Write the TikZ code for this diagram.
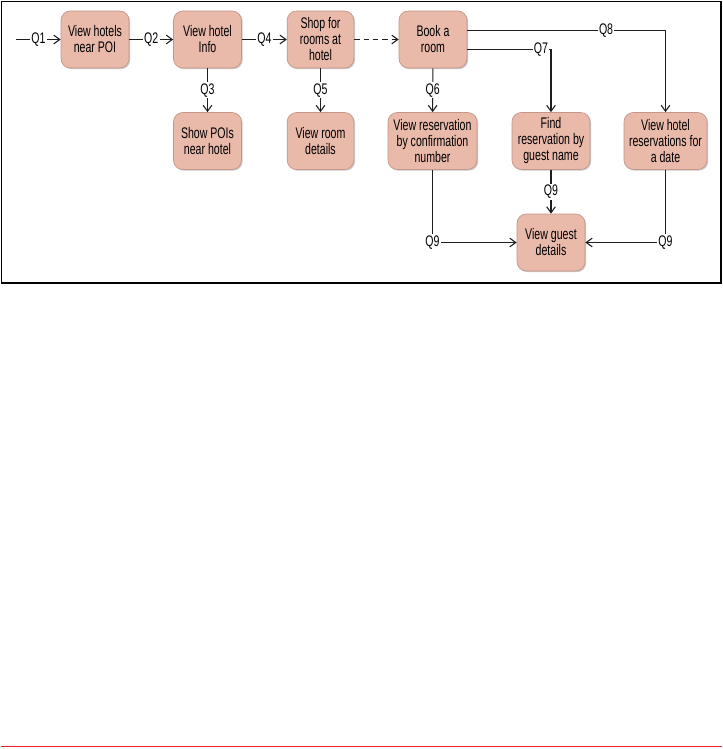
\documentclass[tikz,border=0pt]{standalone}
\usepackage{fontspec}
\setmainfont[FakeStretch=0.69]{Liberation Sans}
\usetikzlibrary{arrows.meta,shadows}
\definecolor{boxfill}{RGB}{233,185,170}
\definecolor{boxline}{RGB}{196,150,138}
\definecolor{edgeline}{RGB}{30,30,30}
\definecolor{redline}{RGB}{232,32,42}
\begin{document}
\begin{tikzpicture}[x=0.75pt,y=-0.75pt,
  font=\fontsize{11.5}{12}\selectfont,
  box/.style={draw=boxline, line width=0.5pt, fill=boxfill, rounded corners=7pt,
    align=center, inner sep=0pt, minimum height=42.75pt,
    drop shadow={shadow xshift=0.9pt, shadow yshift=-0.9pt, fill=black!35, opacity=0.6}},
  arr/.style={draw=edgeline, line width=0.8pt, -{Straight Barb[length=4.5pt,width=6.5pt]}},
  lbl/.style={fill=white, inner sep=1pt, text=black}]
\useasboundingbox (0,0) rectangle (723,749);
\draw[line width=0.9pt] (1.5,1.5) rectangle (721,283);
\draw[redline, line width=1.2pt] (1,746.5) -- (722,746.5);

\node[box, minimum width=51pt] (poi) at (95,39.5) {View hotels\\near POI};
\node[box, minimum width=51pt] (info) at (207.5,39.5) {View hotel\\Info};
\node[box, minimum width=50pt] (shop) at (320.5,39.5) {Shop for\\rooms at\\hotel};
\node[box, minimum width=51pt] (book) at (433,39.5) {Book a\\room};
\node[box, minimum width=51pt] (pois) at (207.5,141) {Show POIs\\near hotel};
\node[box, minimum width=50pt] (room) at (320.5,141) {View room\\details};
\node[box, minimum width=66.75pt] (conf) at (432.5,141) {View reservation\\by confirmation\\number};
\node[box, minimum width=58.5pt] (find) at (551,141) {Find\\reservation by\\guest name};
\node[box, minimum width=62.25pt] (date) at (665.5,141) {View hotel\\reservations for\\a date};
\node[box, minimum width=51pt] (guest) at (551,242.5) {View guest\\details};

\coordinate (start) at (16,39.5);
\draw[arr] (start) -- node[lbl]{Q1} (poi);
\draw[arr] (poi) -- node[lbl]{Q2} (info);
\draw[arr] (info) -- node[lbl]{Q4} (shop);
\draw[arr, dashed, dash pattern=on 4pt off 3pt] (shop) -- (book);
\draw[arr] (info) -- node[lbl]{Q3} (pois);
\draw[arr] (shop) -- node[lbl]{Q5} (room);
\draw[arr] (book) -- node[lbl]{Q6} (conf);
\draw[arr] ([yshift=-7.35pt]book.east) -| node[lbl, pos=0.44]{Q7} (find.north);
\draw[arr] ([yshift=6.6pt]book.east) -| node[lbl, pos=0.35]{Q8} (date.north);
\draw[arr] (find) -- node[lbl]{Q9} (guest);
\draw[arr] (conf.south) |- node[lbl, pos=0.5]{Q9} (guest.west);
\draw[arr] (date.south) |- node[lbl, pos=0.5]{Q9} (guest.east);
\end{tikzpicture}
\end{document}
